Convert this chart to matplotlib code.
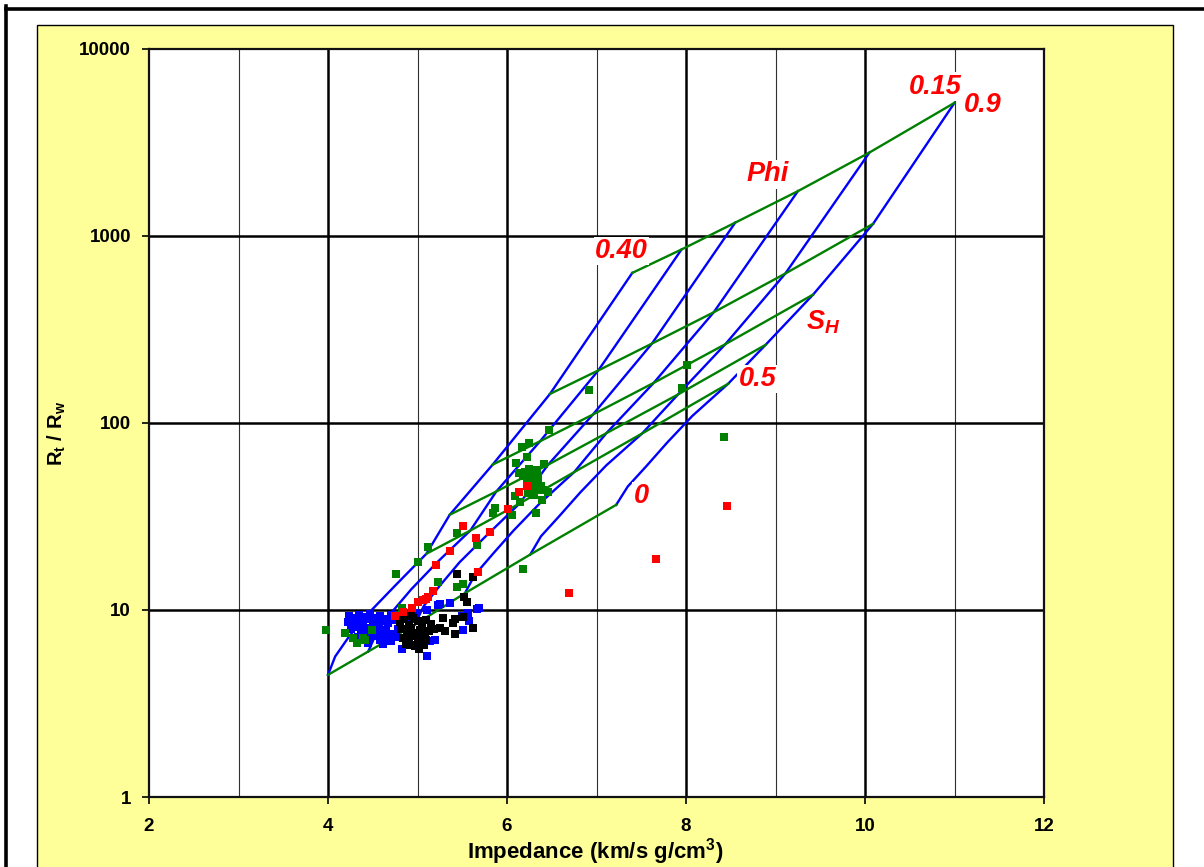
import matplotlib
matplotlib.use("Agg")
import matplotlib.pyplot as plt
from matplotlib.lines import Line2D
from matplotlib.patches import Rectangle

plt.rcParams['font.family'] = ['Liberation Sans', 'DejaVu Sans']
plt.rcParams['mathtext.fontset'] = 'custom'
plt.rcParams['mathtext.rm'] = 'Liberation Sans:bold'
plt.rcParams['mathtext.it'] = 'Liberation Sans:bold:italic'
plt.rcParams['mathtext.bf'] = 'Liberation Sans:bold'

# ---------------- model grid ----------------
phi_values = [0.40, 0.35, 0.30, 0.25, 0.20, 0.15]
sh_values = [0.0, 0.1, 0.2, 0.3, 0.4, 0.5, 0.6, 0.7, 0.8, 0.9]
sh_green = [0.0, 0.5, 0.6, 0.7, 0.8, 0.9]

# impedance at each node: rows = phi, cols = sh
imp_phi40 = [4.00, 4.08, 4.24, 4.46, 4.75, 5.10, 5.36, 5.84, 6.48, 7.40]
imp_phi35 = [4.45, 4.54, 4.71, 4.93, 5.22, 5.59, 5.88, 6.37, 7.02, 7.95]
imp_phi30 = [4.97, 5.07, 5.25, 5.47, 5.77, 6.14, 6.46, 6.96, 7.62, 8.55]
imp_phi25 = [5.53, 5.64, 5.84, 6.07, 6.36, 6.75, 7.11, 7.64, 8.31, 9.25]
imp_phi20 = [6.26, 6.38, 6.59, 6.82, 7.11, 7.51, 7.91, 8.44, 9.11, 10.05]
imp_phi15 = [7.22, 7.35, 7.56, 7.79, 8.07, 8.47, 8.89, 9.42, 10.09, 11.00]

# Rt/Rw at each node
rt_phi40 = [4.5, 5.64, 7.27, 9.69, 13.5, 20.0, 32.3, 59.9, 143, 635]
rt_phi35 = [6.0, 7.52, 9.70, 12.9, 18.0, 26.6, 43.0, 79.9, 191, 847]
rt_phi30 = [8.35, 10.5, 13.5, 18.0, 25.0, 37.1, 59.9, 111, 266, 1179]
rt_phi25 = [12.3, 15.4, 19.9, 26.5, 36.9, 54.6, 88.2, 164, 391, 1737]
rt_phi20 = [19.8, 24.8, 32.0, 42.6, 59.4, 87.9, 142, 264, 630, 2796]
rt_phi15 = [36.5, 45.8, 59.0, 78.6, 109, 162, 262, 486, 1161, 5154]

imp_grid = [imp_phi40, imp_phi35, imp_phi30, imp_phi25, imp_phi20, imp_phi15]
rt_grid = [rt_phi40, rt_phi35, rt_phi30, rt_phi25, rt_phi20, rt_phi15]

# ---------------- data points ----------------
blue_x = [4.24, 4.30, 4.35, 4.41, 4.47, 4.52, 4.58, 4.63, 4.70, 4.76,
          4.22, 4.28, 4.33, 4.39, 4.44, 4.50, 4.56, 4.61, 4.67, 4.73, 4.80,
          4.26, 4.31, 4.37, 4.43, 4.48, 4.54, 4.59, 4.65, 4.71, 4.78,
          4.33, 4.40, 4.46, 4.52, 4.58, 4.64, 4.70, 4.76,
          4.45, 4.62, 4.38,
          4.83, 4.88, 5.11, 5.20, 5.14, 5.11, 5.23, 5.36, 5.51, 5.56, 5.69,
          5.66, 5.50, 5.58, 5.25, 4.93, 4.98]
blue_y = [9.3, 9.1, 9.4, 9.2, 9.5, 9.1, 9.3, 9.0, 9.4, 9.2,
          8.6, 8.4, 8.8, 8.5, 8.9, 8.6, 8.3, 8.7, 8.5, 8.8, 8.4,
          7.9, 8.1, 7.7, 8.0, 7.6, 7.9, 7.5, 7.8, 7.4, 7.9,
          7.2, 7.4, 7.0, 7.3, 6.9, 7.1, 6.8, 7.2,
          6.7, 6.6, 6.9,
          6.2, 9.2, 5.7, 6.9, 6.8, 10.0, 10.7, 10.9, 7.8, 9.6, 10.3,
          10.1, 9.3, 8.7, 10.8, 8.9, 9.6]

black_x = [4.80, 4.85, 4.90, 4.95, 5.00, 5.05, 5.10, 5.15,
           4.82, 4.88, 4.93, 4.98, 5.03, 5.08, 5.13, 5.18,
           4.84, 4.90, 4.95, 5.00, 5.05, 5.10, 4.87, 4.97, 5.02, 4.92, 5.07, 4.93,
           5.44, 5.62, 5.52, 5.55, 5.28, 5.42, 5.51, 5.40, 5.31, 5.42, 5.62, 5.25]
black_y = [8.6, 8.9, 8.3, 9.1, 8.7, 8.2, 8.8, 8.4,
           7.9, 7.6, 8.0, 7.5, 7.8, 7.4, 7.7, 7.9,
           7.1, 6.9, 7.3, 6.8, 7.1, 6.9, 6.6, 6.4, 6.2, 6.5, 6.5, 9.3,
           15.6, 15.1, 11.7, 11.1, 9.1, 9.0, 9.2, 8.5, 7.7, 7.4, 8.0, 8.0]

green_x = [3.98, 4.19, 4.28, 4.39, 4.32, 4.49, 4.41, 4.83, 4.76, 5.12,
           5.00, 5.23, 5.44, 5.51, 5.66, 6.18, 5.44, 5.84, 5.87, 6.06,
           6.09, 6.15, 6.32, 6.39, 6.46, 6.47, 6.17, 6.25, 6.22, 6.10,
           6.41, 6.13, 6.92, 7.96, 8.01, 8.42,
           6.20, 6.25, 6.28, 6.30, 6.33, 6.35, 6.27, 6.22, 6.32, 6.38,
           6.25, 6.18, 6.30, 6.35, 6.40, 6.24]
green_y = [7.8, 7.5, 7.1, 7.1, 6.7, 7.8, 6.9, 10.3, 15.5, 21.6,
           18.0, 14.2, 13.2, 13.7, 22.4, 16.5, 25.7, 33.0, 35.0, 32.2,
           40.5, 37.7, 33.0, 38.6, 43.0, 91.4, 74.0, 78.0, 65.5, 61.0,
           60.0, 54.0, 150, 153, 204, 84,
           55, 57, 53, 50, 56, 48, 46, 48, 44, 46,
           51, 52, 41, 52, 44, 42]

red_x = [4.75, 4.84, 4.94, 5.00, 5.06, 5.09, 5.12, 5.17, 5.21, 5.36,
         5.51, 5.65, 5.81, 5.68, 6.01, 6.13, 6.22, 6.69, 7.66, 8.46]
red_y = [9.3, 9.7, 10.2, 11.0, 11.3, 11.5, 11.8, 12.6, 17.5, 20.6,
         28.2, 24.4, 26.2, 15.9, 34.5, 42.6, 45.9, 12.3, 18.7, 35.8]

x_ticks = [2, 4, 6, 8, 10, 12]
y_ticks = [1, 10, 100, 1000, 10000]
y_ticklabels = ['1', '10', '100', '1000', '10000']

# ---------------- figure ----------------
W, H = 1204, 867
fig = plt.figure(figsize=(W / 100, H / 100), dpi=100, facecolor='white')

# yellow panel
fig.patches.append(Rectangle((37 / W, -0.02), (1173 - 37) / W, 1 - 25 / H + 0.02,
                             transform=fig.transFigure, facecolor='#FFFF99',
                             edgecolor='black', linewidth=1.0, zorder=-10))
# outer black frame (left and top)
fig.lines.append(Line2D([6 / W, 6 / W], [0, 1 - 6 / H], transform=fig.transFigure,
                        color='black', linewidth=2.6, solid_capstyle='projecting',
                        zorder=-10))
fig.lines.append(Line2D([6 / W, 1], [1 - 8.5 / H, 1 - 8.5 / H], transform=fig.transFigure,
                        color='black', linewidth=2.6, solid_capstyle='projecting',
                        zorder=-10))

ax = fig.add_axes([149 / W, 1 - 797 / H, (1044 - 149) / W, (797 - 49) / H])
ax.set_zorder(1)
ax.set_facecolor('white')
ax.set_yscale('log')
ax.set_xlim(2, 12)
ax.set_ylim(1, 10000)

# grid lines
for xv in [3, 5, 7, 9, 11]:
    ax.axvline(xv, color='#303030', linewidth=0.8, zorder=1)
for xv in [4, 6, 8, 10]:
    ax.axvline(xv, color='black', linewidth=1.8, zorder=1)
for yv in [10, 100, 1000]:
    ax.axhline(yv, color='black', linewidth=1.8, zorder=1)

for sp in ax.spines.values():
    sp.set_linewidth(1.6)
    sp.set_color('#111111')

ax.set_xticks(x_ticks)
ax.set_xticklabels([str(v) for v in x_ticks])
ax.set_yticks(y_ticks)
ax.set_yticklabels(y_ticklabels)
ax.yaxis.set_minor_locator(matplotlib.ticker.NullLocator())
ax.tick_params(axis='both', which='major', direction='out', length=5, width=1.2,
               labelsize=13.5)
ax.tick_params(axis='x', pad=10)
ax.tick_params(axis='y', pad=8)
for lab in ax.get_xticklabels() + ax.get_yticklabels():
    lab.set_fontweight('bold')

# blue lines: constant porosity
for i in range(len(phi_values)):
    ax.plot(imp_grid[i], rt_grid[i], color='#0000FF', linewidth=1.7, zorder=3)

# green lines: constant hydrate saturation
for s in sh_green:
    j = sh_values.index(s)
    xs = [imp_grid[i][j] for i in range(len(phi_values))]
    ys = [rt_grid[i][j] for i in range(len(phi_values))]
    ax.plot(xs, ys, color='#008000', linewidth=1.7, zorder=3)

# data points
ms = 6.3
ax.plot(blue_x, blue_y, 's', color='#0000FF', markersize=ms, markeredgewidth=0, zorder=4)
ax.plot(black_x, black_y, 's', color='black', markersize=ms, markeredgewidth=0, zorder=4)
ax.plot(green_x, green_y, 's', color='#008000', markersize=ms, markeredgewidth=0, zorder=4)
ax.plot(red_x, red_y, 's', color='#FF0000', markersize=ms, markeredgewidth=0, zorder=4)

# annotations
lab_kw = dict(color='#FF0000', fontsize=19.5, fontweight='bold', fontstyle='italic',
              ha='center', va='center', zorder=6,
              bbox=dict(facecolor='white', edgecolor='none', pad=1.0))
ax.text(7.28, 830, '0.40', **lab_kw)
ax.text(8.91, 2140, 'Phi', **lab_kw)
ax.text(10.79, 6300, '0.15', **lab_kw)
ax.text(11.32, 5000, '0.9', **lab_kw)
ax.text(9.53, 345, r'$\mathit{S_H}$', **lab_kw)
ax.text(8.80, 172, '0.5', **lab_kw)
ax.text(7.50, 40.5, '0', **lab_kw)

# axis labels
fig.text(595 / W, 1 - 852 / H, r'Impedance (km/s g/cm$\mathrm{^3}$)', ha='center', va='center',
         fontsize=16, fontweight='bold')
fig.text(57 / W, 1 - 433 / H, r'$\mathrm{R_t\ /\ R_w}$', ha='center', va='center',
         fontsize=14.5, rotation=90)

fig.savefig('out.png', dpi=100, facecolor='white')
